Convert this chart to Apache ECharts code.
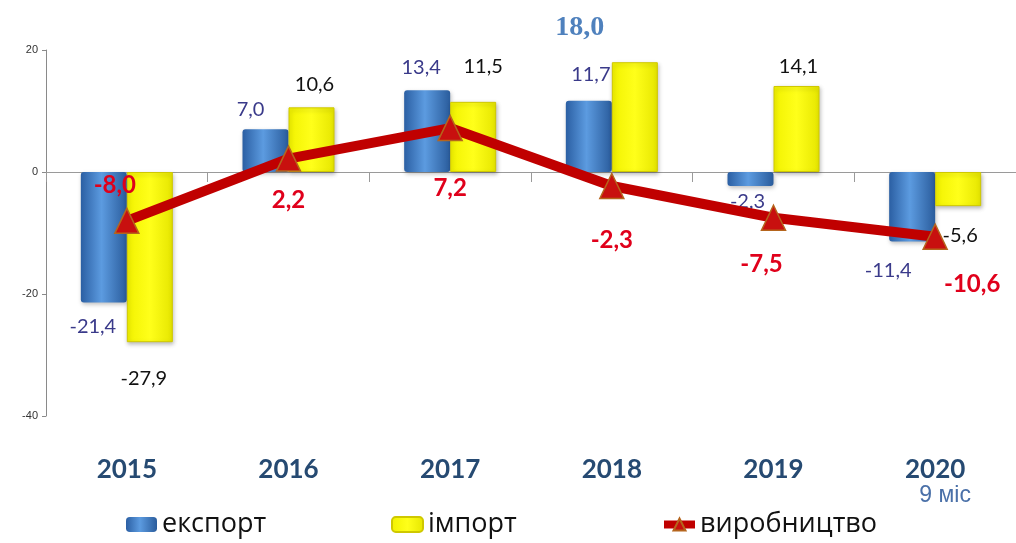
<!DOCTYPE html>
<html>
<head>
<meta charset="utf-8">
<script src="https://cdn.jsdelivr.net/npm/echarts@6/dist/echarts.min.js"></script>
<style>
  html, body { margin: 0; padding: 0; background: #ffffff; }
  #chart { width: 1016px; height: 543px; }
</style>
</head>
<body>
<div id="chart"></div>
<script>
// ---- data ----
const years = ['2015', '2016', '2017', '2018', '2019', '2020'];
const exportVals = [-21.4, 7.0, 13.4, 11.7, -2.3, -11.4];
const importVals = [-27.9, 10.6, 11.5, 18.0, 14.1, -5.6];
const productionVals = [-8.0, 2.2, 7.2, -2.3, -7.5, -10.6];
const seriesNames = ['експорт', 'імпорт', 'виробництво'];
const lastYearNote = '9 міс';
const yMin = -40, yMax = 20, yStep = 20;

// ---- label placement (pixel nudges from element centre) ----
const exportLabelOffsets = [[-11, 89], [-15, -41], [-6, -64], [2, -62], [-3, 23], [-24, 64]];
const importLabelOffsets = [[-6, 121], [3, -55], [10, -70], [-55, -89], [2, -62], [2, 46]];
const prodLabelOffsets = [[-12, -36], [0, 42], [0, 60], [0, 54], [-12, 47], [37, 48]];
const legendLefts = [121, 386, 655];
const highlightImportIndex = 3; // the "18,0" label drawn in a different style

const fmt = v => v.toFixed(1).replace('.', ',');

const blueFill = new echarts.graphic.LinearGradient(0, 0, 1, 0, [
  { offset: 0, color: '#2b5fa3' },
  { offset: 0.45, color: '#5c9be0' },
  { offset: 1, color: '#2a5c9c' }
]);
const yellowFill = new echarts.graphic.LinearGradient(0, 0, 1, 0, [
  { offset: 0, color: '#f2f200' },
  { offset: 0.5, color: '#ffff1a' },
  { offset: 1, color: '#e6e600' }
]);

const baseLabel = {
  show: true,
  position: 'inside',
  fontFamily: 'Lato',
  fontSize: 20,
  textBorderWidth: 0,
  formatter: p => fmt(p.value)
};

const exportData = exportVals.map((v, i) => ({
  value: v,
  label: Object.assign({}, baseLabel, { color: '#3a3a8a', offset: exportLabelOffsets[i] })
}));
const importData = importVals.map((v, i) => {
  const lbl = Object.assign({}, baseLabel, { color: '#111111', offset: importLabelOffsets[i] });
  if (i === highlightImportIndex) {
    Object.assign(lbl, { fontFamily: 'Liberation Serif', fontWeight: 'bold', fontSize: 28, color: '#4f81bd' });
  }
  return { value: v, label: lbl };
});
const prodData = productionVals.map((v, i) => ({
  value: v,
  label: {
    show: true, position: 'inside', offset: prodLabelOffsets[i],
    fontFamily: 'Lato', fontWeight: 'bold', fontSize: 24, color: '#e0001b',
    textBorderWidth: 0, formatter: p => fmt(p.value)
  }
}));

const legendText = { fontFamily: 'Open Sans', fontSize: 27, color: '#111111' };
const legends = seriesNames.map((name, i) => ({
  data: [i === 2 ? { name: name, lineStyle: { width: 8, color: '#c00000' } } : name],
  left: legendLefts[i],
  top: 506,
  itemWidth: 31,
  itemHeight: 15,
  textStyle: legendText
}));

const chart = echarts.init(document.getElementById('chart'), null, { renderer: 'canvas' });
chart.setOption({
  animation: false,
  backgroundColor: '#ffffff',
  grid: { left: 46, right: -8, top: 50, bottom: 127, containLabel: false },
  legend: legends,
  xAxis: [
    {
      type: 'category',
      data: years,
      position: 'bottom',
      axisLine: { show: false, onZero: false },
      axisTick: { show: false },
      axisLabel: {
        margin: 40,
        formatter: (v, i) => i === years.length - 1 ? '{y|' + v + '}\n{n|' + lastYearNote + '}' : '{y|' + v + '}',
        rich: {
          y: { fontFamily: 'Lato', fontWeight: 'bold', fontSize: 26, color: '#264a72', lineHeight: 28 },
          n: { fontFamily: 'Liberation Sans', fontSize: 23, color: '#4a70a8', lineHeight: 24, padding: [0, 0, 0, 20] }
        }
      }
    },
    {
      type: 'category',
      data: years,
      position: 'top',
      axisLine: { show: true, onZero: true, lineStyle: { color: '#9a9a9a', width: 1 } },
      axisTick: { show: true, inside: true, length: 10, lineStyle: { color: '#9a9a9a' } },
      axisLabel: { show: false }
    }
  ],
  yAxis: {
    type: 'value',
    min: yMin, max: yMax, interval: yStep,
    axisLine: { show: true, lineStyle: { color: '#8a8a8a' } },
    axisTick: { show: true, length: 4, lineStyle: { color: '#8a8a8a' } },
    splitLine: { show: false },
    axisLabel: { fontFamily: 'Liberation Sans', fontSize: 11, color: '#333333', margin: 8 }
  },
  series: [
    {
      name: seriesNames[0], type: 'bar', xAxisIndex: 0, data: exportData,
      barWidth: 46, barGap: '0%',
      itemStyle: { color: blueFill, borderRadius: 3, shadowColor: 'rgba(0,0,0,0.25)', shadowBlur: 4, shadowOffsetX: 1, shadowOffsetY: 2 },
      z: 2
    },
    {
      name: seriesNames[1], type: 'bar', xAxisIndex: 0, data: importData,
      barWidth: 46, barGap: '0%',
      itemStyle: { color: yellowFill, borderColor: '#cfc800', borderWidth: 1, shadowColor: 'rgba(0,0,0,0.25)', shadowBlur: 4, shadowOffsetX: 1, shadowOffsetY: 2 },
      z: 2
    },
    {
      name: seriesNames[2], type: 'line', xAxisIndex: 0, data: prodData,
      lineStyle: { color: '#c00000', width: 10 },
      itemStyle: { color: '#c8100f', borderColor: '#b5651d', borderWidth: 1.5 },
      symbol: 'triangle', symbolSize: [24, 25],
      z: 5
    }
  ]
});
</script>
</body>
</html>
